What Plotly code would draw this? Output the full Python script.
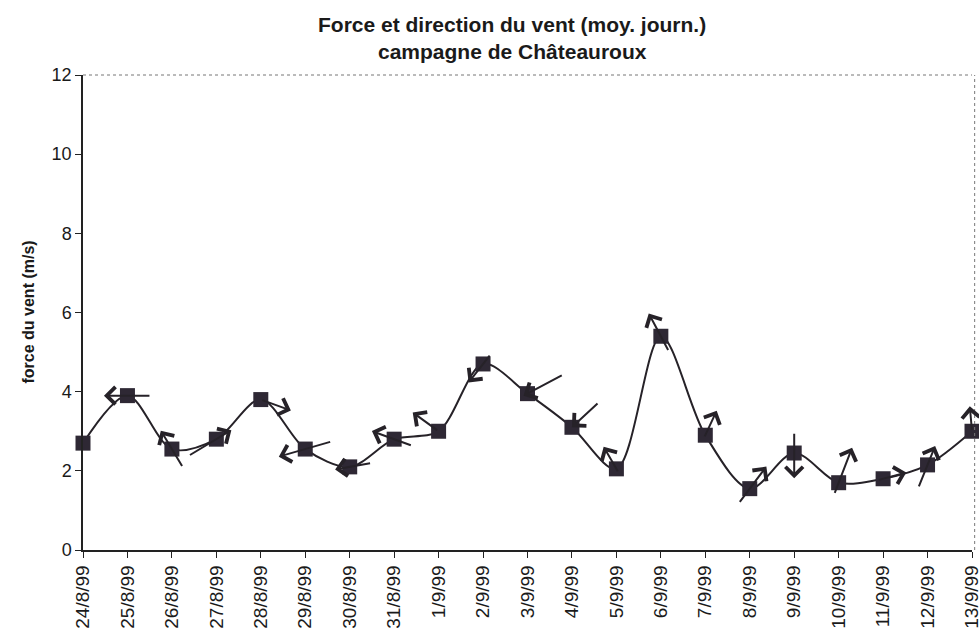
import math
import plotly.graph_objects as go

# ---- data ----
dates = ["24/8/99", "25/8/99", "26/8/99", "27/8/99", "28/8/99", "29/8/99", "30/8/99",
         "31/8/99", "1/9/99", "2/9/99", "3/9/99", "4/9/99", "5/9/99", "6/9/99",
         "7/9/99", "8/9/99", "9/9/99", "10/9/99", "11/9/99", "12/9/99", "13/9/99"]
force = [2.7, 3.9, 2.55, 2.8, 3.8, 2.55, 2.1, 2.8, 3.0, 4.7, 3.95, 3.1, 2.05, 5.4,
         2.9, 1.55, 2.45, 1.7, 1.8, 2.15, 3.0]
# direction the arrow points to (degrees, counter-clockwise from east); None = no arrow
direction = [None, 180, 121, 31, -20, 196, 190, 160, 144, 232, 208, 223, 120, 118,
             65, 53, 270, 69, 15, 68, 95]
y_ticks = [0, 2, 4, 6, 8, 10, 12]

# ---- arrow drawing style (pixel length, and where the point sits along the arrow: 0=tail, 1=head) ----
arrow_len = [0, 47, 43, 50, 32, 55, 37, 43, 32, 36, 45, 37, 30, 43, 30, 46, 46, 50, 30, 45, 25]
arrow_anchor = [0, 0.5, 0.5, 0.65, 0, 0.5, 0.6, 0.45, 0, 0.35, 0.9, 1.0, 0.15, 0.4,
                0.1, 0.4, 0.45, 0.25, 0.2, 0.55, 0]

W, H = 979, 639
ML, MR, MT, MB = 83, 7, 75, 89
font = "Liberation Sans, Arial, sans-serif"
ink = "#262228"

fig = go.Figure()
fig.add_trace(go.Scatter(
    x=dates, y=force, mode="lines+markers",
    line=dict(shape="spline", smoothing=0.9, color=ink, width=2),
    marker=dict(symbol="square", size=15, color="#2e2834", line=dict(width=0)),
    cliponaxis=False, showlegend=False,
))

annotations = []
for d, v, ang, L, f in zip(dates, force, direction, arrow_len, arrow_anchor):
    if ang is None:
        continue
    c, s = math.cos(math.radians(ang)), math.sin(math.radians(ang))
    annotations.append(dict(
        x=d, y=v, xref="x", yref="y", text="", showarrow=True,
        ax=-L * c, ay=L * s,
        xshift=(1 - f) * L * c, yshift=(1 - f) * L * s,
        arrowhead=4, arrowsize=1.7, arrowwidth=2, arrowcolor=ink, standoff=0,
        startstandoff=0,
    ))

annotations.append(dict(
    text="<b>Force et direction du vent (moy. journ.)</b>",
    xref="paper", yref="paper", x=0.483, y=1.0, yshift=51, xanchor="center", yanchor="middle",
    showarrow=False, font=dict(family=font, size=21, color="#1a1a1a"),
))
annotations.append(dict(
    text="<b>campagne de Châteauroux</b>",
    xref="paper", yref="paper", x=0.483, y=1.0, yshift=24, xanchor="center", yanchor="middle",
    showarrow=False, font=dict(family=font, size=21, color="#1a1a1a"),
))
annotations.append(dict(
    text="<b>force du vent (m/s)</b>",
    xref="paper", yref="paper", x=0, y=0.5, xshift=-55, xanchor="center", yanchor="middle",
    textangle=-90, showarrow=False, font=dict(family=font, size=16, color="#1a1a1a"),
))

shapes = [
    dict(type="line", xref="paper", yref="paper", x0=0, x1=1, y0=1, y1=1,
         line=dict(color="#777", width=1, dash="dot")),
    dict(type="line", xref="paper", yref="paper", x0=1.003, x1=1.003, y0=0, y1=1,
         line=dict(color="#777", width=1, dash="dot")),
]

fig.update_layout(
    width=W, height=H,
    margin=dict(l=ML, r=MR, t=MT, b=MB),
    paper_bgcolor="white", plot_bgcolor="white",
    font=dict(family=font, size=15, color="#1a1a1a"),
    annotations=annotations, shapes=shapes,
    xaxis=dict(
        type="category", range=[0, len(dates) - 1], tickangle=-90, automargin=False,
        showgrid=False, zeroline=False, showline=True, linecolor="#222", linewidth=1.5,
        ticks="outside", ticklen=6, tickcolor="#222", tickfont=dict(size=19),
    ),
    yaxis=dict(
        range=[0, 12], tickvals=y_ticks, showgrid=False, zeroline=False, automargin=False,
        showline=True, linecolor="#222", linewidth=1.5,
        ticks="outside", ticklen=6, tickcolor="#222", tickfont=dict(size=18),
    ),
)

fig.write_html(
    "out.html",
    config={"displayModeBar": False},
    post_script="document.body.style.margin='0';document.body.style.overflow='hidden';",
)
